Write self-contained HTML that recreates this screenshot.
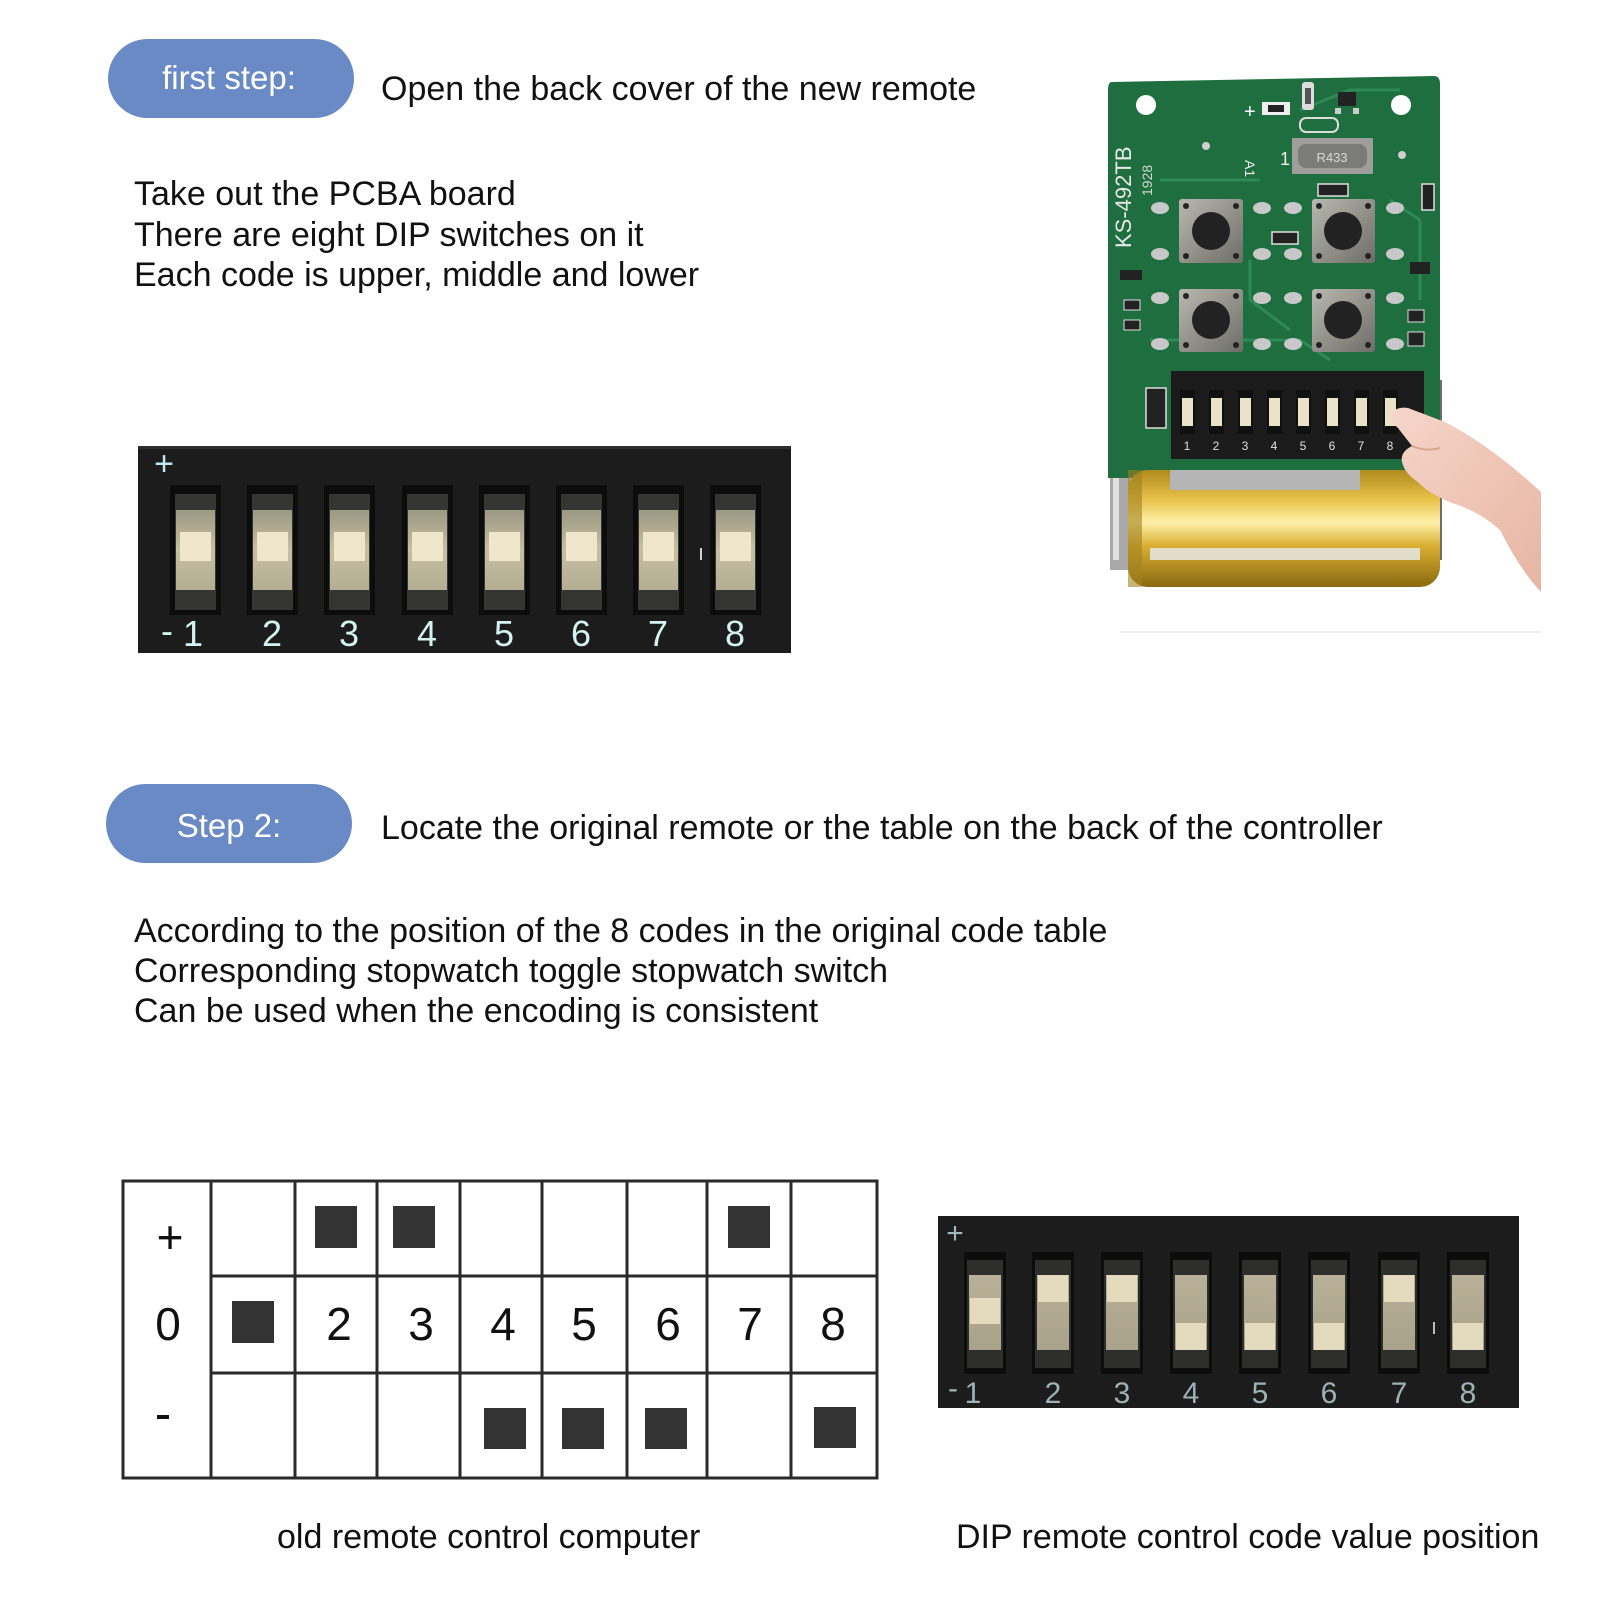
<!DOCTYPE html>
<html>
<head>
<meta charset="utf-8">
<style>
  html,body{margin:0;padding:0;background:#fff;}
  svg{display:block;}
  text{font-family:"Liberation Sans", Arial, sans-serif;}
</style>
</head>
<body>
<svg width="1601" height="1601" viewBox="0 0 1601 1601" xmlns="http://www.w3.org/2000/svg">
  <defs>
    <linearGradient id="beige1" x1="0" y1="0" x2="0" y2="1">
      <stop offset="0" stop-color="#9c9882"/>
      <stop offset="0.5" stop-color="#c6bfa2"/>
      <stop offset="1" stop-color="#b3ad93"/>
    </linearGradient>
    <linearGradient id="beige2" x1="0" y1="0" x2="0" y2="1">
      <stop offset="0" stop-color="#b8b198"/>
      <stop offset="1" stop-color="#a9a28a"/>
    </linearGradient>
    <linearGradient id="gold" x1="0" y1="0" x2="0" y2="1">
      <stop offset="0" stop-color="#b08a1c"/>
      <stop offset="0.25" stop-color="#e8c24a"/>
      <stop offset="0.45" stop-color="#fff0a8"/>
      <stop offset="0.65" stop-color="#d9ae32"/>
      <stop offset="1" stop-color="#8a6a12"/>
    </linearGradient>
    <linearGradient id="btn" x1="0" y1="0" x2="1" y2="1">
      <stop offset="0" stop-color="#b8b8b0"/>
      <stop offset="1" stop-color="#6e6e68"/>
    </linearGradient>
    <linearGradient id="skin" x1="0" y1="0" x2="1" y2="1">
      <stop offset="0" stop-color="#f6d6ca"/>
      <stop offset="1" stop-color="#e7b5a2"/>
    </linearGradient>
  </defs>

  <!-- ============ STEP 1 ============ -->
  <rect x="108" y="39" width="246" height="79" rx="39.5" fill="#6a8ac6"/>
  <text x="229" y="89" font-size="33" fill="#ffffff" text-anchor="middle">first step:</text>
  <text x="381" y="100" font-size="34" fill="#111">Open the back cover of the new remote</text>

  <text x="134" y="205" font-size="34" fill="#111">Take out the PCBA board</text>
  <text x="134" y="246" font-size="34" fill="#111">There are eight DIP switches on it</text>
  <text x="134" y="286" font-size="34" fill="#111">Each code is upper, middle and lower</text>

  <!-- DIP image 1 -->
  <rect x="138" y="446" width="653" height="207" fill="#1c1c1c"/>
  <rect x="138" y="446" width="653" height="3" fill="#2e2e2e"/>
  <g>
    <!-- slots -->
    <g id="slots1">
      <!-- generated manually for 8 slots -->
    </g>
  </g>
  <!-- slot 1..8 centers: 195,272,349,427,504,581,658,735 -->
  <g fill="#0c0c0c">
    <rect x="170" y="485" width="51" height="130"/>
    <rect x="247" y="485" width="51" height="130"/>
    <rect x="324" y="485" width="51" height="130"/>
    <rect x="402" y="485" width="51" height="130"/>
    <rect x="479" y="485" width="51" height="130"/>
    <rect x="556" y="485" width="51" height="130"/>
    <rect x="633" y="485" width="51" height="130"/>
    <rect x="710" y="485" width="51" height="130"/>
  </g>
  <g fill="#353533">
    <rect x="175" y="494" width="41" height="116"/>
    <rect x="252" y="494" width="41" height="116"/>
    <rect x="329" y="494" width="41" height="116"/>
    <rect x="407" y="494" width="41" height="116"/>
    <rect x="484" y="494" width="41" height="116"/>
    <rect x="561" y="494" width="41" height="116"/>
    <rect x="638" y="494" width="41" height="116"/>
    <rect x="715" y="494" width="41" height="116"/>
  </g>
  <g fill="url(#beige1)">
    <rect x="176" y="510" width="39" height="80"/>
    <rect x="253" y="510" width="39" height="80"/>
    <rect x="330" y="510" width="39" height="80"/>
    <rect x="408" y="510" width="39" height="80"/>
    <rect x="485" y="510" width="39" height="80"/>
    <rect x="562" y="510" width="39" height="80"/>
    <rect x="639" y="510" width="39" height="80"/>
    <rect x="716" y="510" width="39" height="80"/>
  </g>
  <g fill="#efe6cb">
    <rect x="180" y="532" width="31" height="29"/>
    <rect x="257" y="532" width="31" height="29"/>
    <rect x="334" y="532" width="31" height="29"/>
    <rect x="412" y="532" width="31" height="29"/>
    <rect x="489" y="532" width="31" height="29"/>
    <rect x="566" y="532" width="31" height="29"/>
    <rect x="643" y="532" width="31" height="29"/>
    <rect x="720" y="532" width="31" height="29"/>
  </g>
  <rect x="700" y="548" width="2" height="12" fill="#cfcfcf"/>
  <text x="164" y="475" font-size="34" fill="#bfe9ee" text-anchor="middle">+</text>
  <g font-size="36" fill="#d4f2f2" text-anchor="middle">
    <text x="167" y="643">-</text>
    <text x="193" y="646">1</text>
    <text x="272" y="646">2</text>
    <text x="349" y="646">3</text>
    <text x="427" y="646">4</text>
    <text x="504" y="646">5</text>
    <text x="581" y="646">6</text>
    <text x="658" y="646">7</text>
    <text x="735" y="646">8</text>
  </g>

  <!-- PCB photo illustration -->
  <line x1="1120" y1="632" x2="1541" y2="632" stroke="#eeeeee" stroke-width="2"/>
  <!-- metal clips -->
  <rect x="1110" y="390" width="20" height="180" fill="#a9a9a9"/>
  <rect x="1113" y="400" width="6" height="160" fill="#e0e0e0"/>
  <rect x="1420" y="380" width="22" height="180" fill="#6d6d6d"/>
  <!-- board -->
  <path d="M1112 82 L1434 76 Q1440 76 1440 84 L1440 478 L1108 478 L1108 90 Q1108 82 1112 82 Z" fill="#1f6e3f"/>
  <g stroke="#2e8a54" stroke-width="3" fill="none">
    <path d="M1150 340 L1300 340 L1330 360"/>
    <path d="M1250 260 L1250 300 L1290 330"/>
    <path d="M1160 180 L1260 180"/>
    <path d="M1390 200 L1420 220 L1420 300"/>
    <path d="M1300 110 L1350 90 L1400 90"/>
  </g>
  <circle cx="1146" cy="105" r="10" fill="#ffffff"/>
  <circle cx="1401" cy="105" r="10" fill="#ffffff"/>
  <!-- small components -->
  <text x="1244" y="118" font-size="20" fill="#fff">+</text>
  <rect x="1262" y="102" width="28" height="13" fill="#eee"/>
  <rect x="1268" y="105" width="16" height="7" fill="#222"/>
  <rect x="1302" y="82" width="12" height="28" rx="3" fill="#ddd"/>
  <rect x="1305" y="88" width="6" height="16" fill="#555"/>
  <rect x="1338" y="92" width="18" height="14" fill="#222"/>
  <rect x="1335" y="108" width="6" height="6" fill="#ccc"/>
  <rect x="1353" y="108" width="6" height="6" fill="#ccc"/>
  <rect x="1300" y="118" width="38" height="14" rx="6" fill="none" stroke="#ddd" stroke-width="2"/>
  <rect x="1292" y="138" width="81" height="36" fill="#9e9e9a"/>
  <rect x="1298" y="144" width="69" height="24" rx="8" fill="#7b7b77"/>
  <text x="1332" y="162" font-size="13" fill="#d8d8d8" text-anchor="middle" font-family="Liberation Serif, serif">R433</text>
  <text x="1280" y="165" font-size="18" fill="#eee" font-family="Liberation Serif, serif">1</text>
  <text x="1250" y="165" font-size="14" fill="#eee" transform="rotate(90 1250 160)">A1</text>
  <circle cx="1206" cy="146" r="4" fill="#cfcfcf"/>
  <circle cx="1402" cy="155" r="4" fill="#cfcfcf"/>
  <rect x="1318" y="184" width="30" height="12" fill="#222" stroke="#ddd" stroke-width="1.5"/>
  <rect x="1422" y="184" width="12" height="26" fill="#222" stroke="#ddd" stroke-width="1.5"/>
  <rect x="1272" y="232" width="26" height="12" fill="#222" stroke="#ddd" stroke-width="1.5"/>
  <rect x="1410" y="262" width="20" height="12" fill="#222"/>
  <rect x="1120" y="270" width="22" height="10" fill="#222"/>
  <rect x="1124" y="300" width="16" height="10" fill="#222" stroke="#ddd" stroke-width="1"/>
  <rect x="1124" y="320" width="16" height="10" fill="#222" stroke="#ddd" stroke-width="1"/>
  <rect x="1408" y="310" width="16" height="12" fill="#222" stroke="#ddd" stroke-width="1"/>
  <rect x="1408" y="332" width="16" height="14" fill="#222" stroke="#ddd" stroke-width="1"/>
  <text x="1131" y="248" font-size="22" fill="#e8e8e8" font-family="Liberation Serif, serif" transform="rotate(-90 1131 248)">KS-492TB</text>
  <text x="1152" y="196" font-size="14" fill="#cfd8cf" font-family="Liberation Serif, serif" transform="rotate(-90 1152 196)">1928</text>
  <!-- pads -->
  <g fill="#c8c8c8">
    <ellipse cx="1160" cy="208" rx="9" ry="6"/><ellipse cx="1262" cy="208" rx="9" ry="6"/>
    <ellipse cx="1160" cy="254" rx="9" ry="6"/><ellipse cx="1262" cy="254" rx="9" ry="6"/>
    <ellipse cx="1293" cy="208" rx="9" ry="6"/><ellipse cx="1395" cy="208" rx="9" ry="6"/>
    <ellipse cx="1293" cy="254" rx="9" ry="6"/><ellipse cx="1395" cy="254" rx="9" ry="6"/>
    <ellipse cx="1160" cy="298" rx="9" ry="6"/><ellipse cx="1262" cy="298" rx="9" ry="6"/>
    <ellipse cx="1160" cy="344" rx="9" ry="6"/><ellipse cx="1262" cy="344" rx="9" ry="6"/>
    <ellipse cx="1293" cy="298" rx="9" ry="6"/><ellipse cx="1395" cy="298" rx="9" ry="6"/>
    <ellipse cx="1293" cy="344" rx="9" ry="6"/><ellipse cx="1395" cy="344" rx="9" ry="6"/>
  </g>
  <!-- buttons -->
  <g>
    <rect x="1179" y="199" width="64" height="64" rx="3" fill="url(#btn)"/>
    <rect x="1312" y="199" width="63" height="64" rx="3" fill="url(#btn)"/>
    <rect x="1179" y="289" width="64" height="63" rx="3" fill="url(#btn)"/>
    <rect x="1312" y="289" width="63" height="63" rx="3" fill="url(#btn)"/>
    <g fill="#222">
      <circle cx="1211" cy="231" r="19"/><circle cx="1343" cy="231" r="19"/>
      <circle cx="1211" cy="320" r="19"/><circle cx="1343" cy="320" r="19"/>
      <circle cx="1186" cy="206" r="3"/><circle cx="1236" cy="206" r="3"/><circle cx="1186" cy="256" r="3"/><circle cx="1236" cy="256" r="3"/>
      <circle cx="1319" cy="206" r="3"/><circle cx="1368" cy="206" r="3"/><circle cx="1319" cy="256" r="3"/><circle cx="1368" cy="256" r="3"/>
      <circle cx="1186" cy="296" r="3"/><circle cx="1236" cy="296" r="3"/><circle cx="1186" cy="345" r="3"/><circle cx="1236" cy="345" r="3"/>
      <circle cx="1319" cy="296" r="3"/><circle cx="1368" cy="296" r="3"/><circle cx="1319" cy="345" r="3"/><circle cx="1368" cy="345" r="3"/>
    </g>
  </g>
  <!-- small dip strip -->
  <rect x="1146" y="388" width="20" height="40" fill="#222" stroke="#ddd" stroke-width="1.5"/>
  <rect x="1171" y="371" width="253" height="88" fill="#1b1b1b"/>
  <g fill="#101010">
    <rect x="1180" y="390" width="15" height="44"/><rect x="1209" y="390" width="15" height="44"/>
    <rect x="1238" y="390" width="15" height="44"/><rect x="1267" y="390" width="15" height="44"/>
    <rect x="1296" y="390" width="15" height="44"/><rect x="1325" y="390" width="15" height="44"/>
    <rect x="1354" y="390" width="15" height="44"/><rect x="1383" y="390" width="15" height="44"/>
  </g>
  <g fill="#e9e2c8">
    <rect x="1182" y="398" width="11" height="28"/><rect x="1211" y="398" width="11" height="28"/>
    <rect x="1240" y="398" width="11" height="28"/><rect x="1269" y="398" width="11" height="28"/>
    <rect x="1298" y="398" width="11" height="28"/><rect x="1327" y="398" width="11" height="28"/>
    <rect x="1356" y="398" width="11" height="28"/><rect x="1385" y="398" width="11" height="28"/>
  </g>
  <g font-size="12" fill="#e0e0e0" text-anchor="middle">
    <text x="1187" y="450">1</text><text x="1216" y="450">2</text><text x="1245" y="450">3</text><text x="1274" y="450">4</text>
    <text x="1303" y="450">5</text><text x="1332" y="450">6</text><text x="1361" y="450">7</text><text x="1390" y="450">8</text>
  </g>
  <!-- battery -->
  <rect x="1128" y="470" width="312" height="117" rx="20" fill="url(#gold)"/>
  <rect x="1170" y="470" width="190" height="20" fill="#b5b5b5"/>
  <rect x="1150" y="548" width="270" height="12" fill="#e6e6e6" opacity="0.85"/>
  <rect x="1128" y="470" width="14" height="117" fill="#a08020" opacity="0.6"/>
  <!-- hand -->
  <path d="M1392 414 Q1396 406 1408 408 L1445 422 Q1490 445 1541 492 L1541 592 Q1520 570 1500 530 Q1480 512 1455 504 Q1430 495 1418 482 Q1405 474 1402 462 Q1400 452 1412 446 L1398 428 Q1388 420 1392 414 Z" fill="url(#skin)"/>
  <path d="M1412 446 Q1425 452 1440 448" stroke="#d9a592" stroke-width="2" fill="none"/>

  <!-- ============ STEP 2 ============ -->
  <rect x="106" y="784" width="246" height="79" rx="39.5" fill="#6a8ac6"/>
  <text x="229" y="837" font-size="33" fill="#ffffff" text-anchor="middle">Step 2:</text>
  <text x="381" y="839" font-size="34" fill="#111">Locate the original remote or the table on the back of the controller</text>

  <text x="134" y="942" font-size="34" fill="#111">According to the position of the 8 codes in the original code table</text>
  <text x="134" y="982" font-size="34" fill="#111">Corresponding stopwatch toggle stopwatch switch</text>
  <text x="134" y="1022" font-size="34" fill="#111">Can be used when the encoding is consistent</text>

  <!-- Table -->
  <g stroke="#2a2a2a" stroke-width="3" fill="none">
    <rect x="123" y="1181" width="754" height="297"/>
    <line x1="211" y1="1181" x2="211" y2="1478"/>
    <line x1="295" y1="1181" x2="295" y2="1478"/>
    <line x1="377" y1="1181" x2="377" y2="1478"/>
    <line x1="460" y1="1181" x2="460" y2="1478"/>
    <line x1="542" y1="1181" x2="542" y2="1478"/>
    <line x1="627" y1="1181" x2="627" y2="1478"/>
    <line x1="707" y1="1181" x2="707" y2="1478"/>
    <line x1="791" y1="1181" x2="791" y2="1478"/>
    <line x1="211" y1="1276" x2="877" y2="1276"/>
    <line x1="211" y1="1373" x2="877" y2="1373"/>
  </g>
  <g fill="#333">
    <rect x="315" y="1206" width="42" height="42"/>
    <rect x="393" y="1206" width="42" height="42"/>
    <rect x="728" y="1206" width="42" height="42"/>
    <rect x="232" y="1301" width="42" height="42"/>
    <rect x="484" y="1408" width="42" height="41"/>
    <rect x="562" y="1408" width="42" height="41"/>
    <rect x="645" y="1408" width="42" height="41"/>
    <rect x="814" y="1407" width="42" height="41"/>
  </g>
  <g font-size="46" fill="#111" text-anchor="middle">
    <text x="170" y="1253">+</text>
    <text x="168" y="1340">0</text>
    <text x="339" y="1340">2</text>
    <text x="421" y="1340">3</text>
    <text x="503" y="1340">4</text>
    <text x="584" y="1340">5</text>
    <text x="668" y="1340">6</text>
    <text x="750" y="1340">7</text>
    <text x="833" y="1340">8</text>
  </g>
  <rect x="157" y="1415" width="12" height="4" fill="#111"/>

  <!-- DIP image 2 -->
  <rect x="938" y="1216" width="581" height="192" fill="#1c1c1c"/>
  <g fill="#0c0c0c">
    <rect x="964" y="1252" width="42" height="122"/><rect x="1032" y="1252" width="42" height="122"/>
    <rect x="1101" y="1252" width="42" height="122"/><rect x="1170" y="1252" width="42" height="122"/>
    <rect x="1239" y="1252" width="42" height="122"/><rect x="1308" y="1252" width="42" height="122"/>
    <rect x="1378" y="1252" width="42" height="122"/><rect x="1447" y="1252" width="42" height="122"/>
  </g>
  <g fill="#2e2e2c">
    <rect x="967" y="1260" width="36" height="108"/><rect x="1035" y="1260" width="36" height="108"/>
    <rect x="1104" y="1260" width="36" height="108"/><rect x="1173" y="1260" width="36" height="108"/>
    <rect x="1242" y="1260" width="36" height="108"/><rect x="1311" y="1260" width="36" height="108"/>
    <rect x="1381" y="1260" width="36" height="108"/><rect x="1450" y="1260" width="36" height="108"/>
  </g>
  <g fill="url(#beige2)">
    <rect x="969" y="1275" width="32" height="75"/><rect x="1037" y="1275" width="32" height="75"/>
    <rect x="1106" y="1275" width="32" height="75"/><rect x="1175" y="1275" width="32" height="75"/>
    <rect x="1244" y="1275" width="32" height="75"/><rect x="1313" y="1275" width="32" height="75"/>
    <rect x="1383" y="1275" width="32" height="75"/><rect x="1452" y="1275" width="32" height="75"/>
  </g>
  <g fill="#e4dabd">
    <rect x="970" y="1298" width="30" height="26"/>
    <rect x="1038" y="1275" width="30" height="27"/>
    <rect x="1107" y="1275" width="30" height="27"/>
    <rect x="1176" y="1323" width="30" height="27"/>
    <rect x="1245" y="1323" width="30" height="27"/>
    <rect x="1314" y="1323" width="30" height="27"/>
    <rect x="1384" y="1275" width="30" height="27"/>
    <rect x="1453" y="1323" width="30" height="27"/>
  </g>
  <rect x="1433" y="1322" width="2" height="12" fill="#bbb"/>
  <text x="955" y="1243" font-size="30" fill="#9fb8be" text-anchor="middle">+</text>
  <g font-size="30" fill="#9cb2b6" text-anchor="middle">
    <text x="953" y="1398">-</text>
    <text x="973" y="1403">1</text>
    <text x="1053" y="1403">2</text>
    <text x="1122" y="1403">3</text>
    <text x="1191" y="1403">4</text>
    <text x="1260" y="1403">5</text>
    <text x="1329" y="1403">6</text>
    <text x="1399" y="1403">7</text>
    <text x="1468" y="1403">8</text>
  </g>

  <!-- captions -->
  <text x="277" y="1548" font-size="34" fill="#111">old remote control computer</text>
  <text x="956" y="1548" font-size="34" fill="#111">DIP remote control code value position</text>
</svg>
</body>
</html>
